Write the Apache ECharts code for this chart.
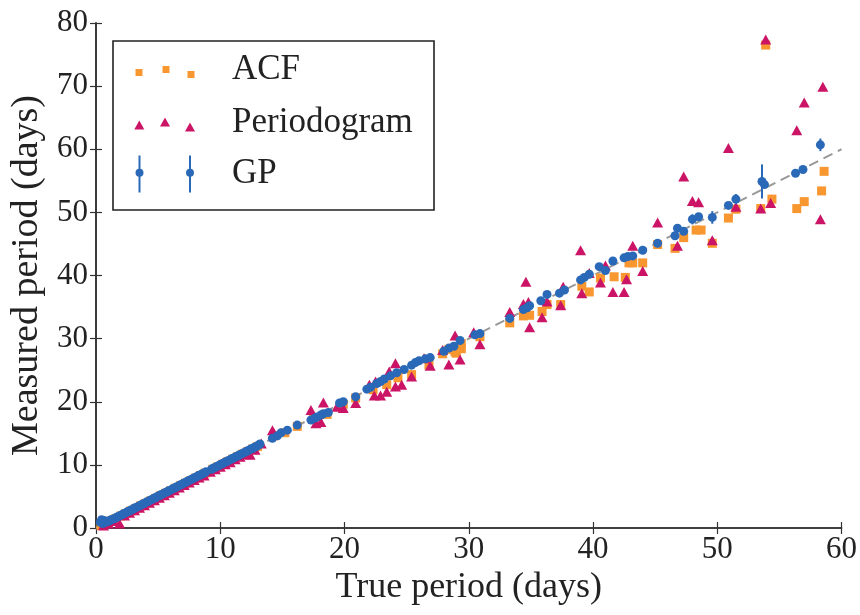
<!DOCTYPE html>
<html>
<head>
<meta charset="utf-8">
<script src="https://cdn.jsdelivr.net/npm/echarts@6/dist/echarts.min.js"></script>
<style>html,body{margin:0;padding:0;background:#fff;}#c{width:860px;height:615px;}</style>
</head>
<body>
<div id="c"></div>
<script>
// ---------- data ----------
const xTicks = [0, 10, 20, 30, 40, 50, 60];
const yTicks = [0, 10, 20, 30, 40, 50, 60, 70, 80];
const seriesNames = ['ACF', 'Periodogram', 'GP'];
const xTitle = 'True period (days)';
const yTitle = 'Measured period (days)';

// one-to-one reference line
const refLine = [[0, 0], [60, 60]];

// GP: [true period, measured period, error]
const gpPoints = [
  [0.35,0.9,0.3],[0.45,1.3,0.3],[0.55,0.7,0.3],[0.65,1.2,0.3],[0.75,0.9,0.2],[0.9,1.0,0.2],[1.05,1.1,0.2],[1.2,1.3,0.1],
  [1.35,1.4,0.1],[1.5,1.5,0.1],[1.65,1.7,0.1],[1.8,1.8,0.1],[1.95,2.0,0.1],[2.1,2.1,0.1],[2.25,2.3,0.1],[2.4,2.4,0.1],
  [2.55,2.6,0.1],[2.7,2.7,0.1],[2.85,2.9,0.1],[3.0,3.0,0.1],[3.15,3.2,0.1],[3.3,3.3,0.1],[3.45,3.5,0.1],[3.6,3.6,0.1],
  [3.75,3.8,0.1],[3.9,3.9,0.1],[4.05,4.1,0.1],[4.2,4.2,0.1],[4.35,4.4,0.1],[4.5,4.5,0.1],[4.65,4.7,0.1],[4.8,4.8,0.1],
  [4.95,5.0,0.1],[5.1,5.1,0.1],[5.25,5.3,0.1],[5.4,5.4,0.1],[5.55,5.6,0.1],[5.7,5.7,0.1],[5.85,5.9,0.1],[6.0,6.0,0.1],
  [6.15,6.2,0.1],[6.3,6.3,0.1],[6.45,6.5,0.1],[6.6,6.6,0.1],[6.75,6.8,0.1],[6.9,6.9,0.1],[7.05,7.1,0.1],[7.2,7.2,0.1],
  [7.35,7.4,0.1],[7.5,7.5,0.1],[7.65,7.7,0.1],[7.8,7.8,0.1],[7.95,8.0,0.1],[8.1,8.1,0.1],[8.25,8.3,0.1],[8.4,8.4,0.1],
  [8.55,8.6,0.1],[8.7,8.7,0.1],[8.85,8.9,0.1],[9.3,9.3,0.1],[9.45,9.5,0.1],[9.6,9.6,0.1],[9.75,9.8,0.1],[9.9,9.9,0.1],
  [10.05,10.1,0.1],[10.2,10.2,0.1],[10.35,10.4,0.1],[10.5,10.5,0.1],[10.65,10.7,0.1],[10.8,10.8,0.1],[10.95,11.0,0.1],
  [11.1,11.1,0.1],[11.25,11.3,0.1],[11.4,11.4,0.1],[11.55,11.6,0.1],[11.7,11.7,0.1],[11.85,11.9,0.1],[12.0,12.0,0.1],
  [12.15,12.2,0.1],[12.3,12.3,0.1],[12.45,12.5,0.1],[12.6,12.6,0.1],[12.75,12.8,0.1],[12.9,12.9,0.1],[13.05,13.1,0.1],[13.2,13.3,0.1],
  [14.2,14.2,0.2],[14.6,14.6,0.2],[14.9,15.1,0.2],[15.4,15.5,0.2],[16.2,16.3,0.2],[17.3,17.1,0.2],[17.6,17.4,0.2],
  [17.8,17.6,0.2],[18.1,17.9,0.2],[18.3,18.1,0.2],[18.7,18.3,0.2],[19.6,19.8,0.2],[19.9,20.0,0.2],[20.9,20.8,0.2],
  [21.8,22.0,0.2],[22.1,22.3,0.2],[22.6,22.9,0.2],[22.9,23.2,0.2],[23.2,23.6,0.2],[23.7,24.1,0.2],[24.2,24.6,0.2],
  [24.8,25.1,0.2],[25.4,25.8,0.3],[25.7,26.2,0.2],[26.0,26.5,0.2],[26.5,26.8,0.2],[26.9,27.0,0.2],[28.0,28.0,0.3],
  [28.4,28.5,0.3],[28.8,28.8,0.3],[29.3,29.7,0.3],
  [30.5,30.6,0.3],[30.9,30.8,0.3],[33.3,33.2,0.3],[34.4,34.6,0.3],[34.7,34.9,0.3],[34.9,35.2,0.3],[35.8,36.0,0.3],
  [36.3,37.0,0.3],[37.3,37.2,0.3],[37.7,37.7,0.3],[39.0,39.3,0.3],[39.3,39.7,0.3],[39.7,40.2,0.3],[40.5,41.4,0.3],
  [41.0,40.8,0.3],[41.6,42.3,0.3],[42.5,42.8,0.3],[42.8,43.0,0.3],[43.2,43.1,0.3],[44.0,44.0,0.3],[45.2,45.1,0.3],
  [46.6,46.3,0.4],[46.8,47.5,0.4],[47.3,47.0,0.4],[48.0,48.9,0.8],[48.5,49.3,0.4],[49.6,49.2,1.0],[50.9,51.1,0.4],
  [51.5,52.1,0.8],[53.6,54.9,2.7],[53.8,54.4,0.5],[56.3,56.2,0.6],[56.9,56.8,0.5],[58.3,60.7,1.0]
];

// ACF: [true period, measured period]
const acfPoints = [
  [0.4,0.4],[0.8,0.7],[1.2,1.1],[1.6,1.5],[2.0,1.9],[2.4,2.3],[2.8,2.7],[3.2,3.1],[3.6,3.5],[4.0,3.9],[4.4,4.3],
  [4.8,4.7],[5.2,5.1],[5.6,5.5],[6.0,5.9],[6.4,6.3],[6.8,6.7],[7.2,7.1],[7.6,7.5],[8.0,7.9],[8.4,8.3],[8.8,8.7],
  [9.4,9.3],[9.8,9.7],[10.2,10.1],[10.6,10.5],[11.0,10.9],[11.4,11.3],[11.8,11.7],[12.2,12.1],[12.6,12.5],[13.0,12.9],
  [14.3,14.6],[15.2,15.1],[16.2,16.1],[17.5,17.2],[18.6,18.0],[19.9,19.6],[20.9,20.6],[22.3,21.9],[23.4,22.7],
  [24.3,23.8],[25.4,24.3],[26.8,25.8],[27.9,27.6],[28.4,28.3],[28.9,27.9],[29.0,27.7],[29.4,28.4],[29.4,29.2],
  [30.9,30.3],[33.3,32.5],[34.4,33.6],[34.9,33.7],[35.9,34.3],[36.3,35.4],[37.4,35.4],[39.1,38.3],[39.7,37.4],
  [40.6,39.6],[41.7,39.8],[42.6,39.7],[42.9,42.0],[43.2,42.0],[44.0,42.0],[45.2,44.9],[46.6,44.3],[47.3,46.0],
  [48.3,47.2],[48.7,47.2],[49.6,45.1],[50.9,49.1],[51.5,50.5],[53.5,50.6],[53.9,76.5],[54.4,52.1],[56.4,50.6],
  [57.0,51.7],[58.4,53.4],[58.6,56.5]
];

// Periodogram: [true period, measured period]
const perPoints = [
  [1.9,0.7],[0.6,0.4],[1.0,0.7],[1.4,1.1],[2.3,2.0],[2.7,2.4],[3.1,2.8],[3.5,3.2],[3.9,3.6],[4.3,4.0],[4.7,4.4],
  [5.1,4.8],[5.5,5.2],[5.9,5.6],[6.3,6.0],[6.7,6.4],[7.1,6.8],[7.5,7.2],[7.9,7.6],[8.3,8.0],[8.7,8.3],[9.2,8.9],
  [9.6,9.3],[10.0,9.7],[10.4,10.1],[10.8,10.4],[11.2,10.9],[11.6,11.3],[12.0,11.7],[12.4,11.6],[12.8,12.4],[13.3,13.4],
  [14.2,15.5],[14.3,15.1],[17.3,18.7],[17.7,16.6],[18.1,16.8],[18.3,19.9],[19.4,19.2],[19.9,19.0],[20.9,19.8],
  [22.0,22.7],[22.4,21.0],[22.5,23.2],[22.9,21.0],[23.4,21.6],[23.6,24.8],[24.1,26.1],[24.1,22.4],[24.6,22.7],
  [25.4,24.0],[26.4,26.9],[26.9,25.7],[27.9,28.2],[28.4,25.9],[28.9,30.5],[29.3,26.7],
  [30.4,31.0],[30.9,29.1],[33.3,34.2],[34.4,35.5],[34.6,39.0],[34.8,35.8],[34.9,31.8],[35.9,33.4],[36.3,35.9],
  [37.4,35.3],[37.6,38.2],[39.0,44.0],[39.1,37.2],[39.7,40.4],[40.6,38.9],[41.0,41.6],[41.6,37.4],[42.5,37.4],
  [42.7,39.4],[43.2,44.7],[44.0,40.7],[45.2,48.4],[46.8,44.7],[47.3,55.7],[48.0,51.8],[48.5,51.6],[49.6,45.6],
  [50.9,60.2],[51.5,50.9],[53.5,50.6],[53.9,77.4],[54.3,51.5],[56.4,63.0],[57.0,67.4],[58.3,48.9],[58.5,69.9]
];

// ---------- styling ----------
const C_ACF = '#f8962f', C_PER = '#cc1466', C_GP = '#2a69b8';
const FONT = 'Liberation Serif';

const chart = echarts.init(document.getElementById('c'), null, {renderer: 'canvas'});

const axisCommon = {
  min: 0,
  axisLine: {show: true, lineStyle: {color: '#333', width: 1.6}},
  axisTick: {show: true, inside: true, length: 6, lineStyle: {color: '#333', width: 1.2}},
  splitLine: {show: false}
};

const option = {
  animation: false,
  backgroundColor: '#fff',
  grid: {left: 95, right: 18, top: 23, bottom: 87, containLabel: false},
  xAxis: [
    Object.assign({}, axisCommon, {
      type: 'value', max: 60, interval: 10, position: 'bottom',
      axisLabel: {fontFamily: FONT, fontSize: 31, color: '#222', margin: 6,
        formatter: v => xTicks.includes(v) ? String(v) : ''},
      name: xTitle, nameLocation: 'middle', nameGap: 40,
      nameTextStyle: {fontFamily: FONT, fontSize: 36, color: '#222'}
    }),
    Object.assign({}, axisCommon, {
      type: 'value', max: 60, interval: 10, position: 'top',
      axisLabel: {show: false}
    })
  ],
  yAxis: [
    Object.assign({}, axisCommon, {
      type: 'value', max: 80, interval: 10, position: 'left',
      axisLabel: {fontFamily: FONT, fontSize: 31, color: '#222', margin: 8,
        formatter: v => yTicks.includes(v) ? String(v) : ''},
      name: yTitle, nameLocation: 'middle', nameGap: 50,
      nameTextStyle: {fontFamily: FONT, fontSize: 38, color: '#222'}
    }),
    Object.assign({}, axisCommon, {
      type: 'value', max: 80, interval: 10, position: 'right',
      axisLabel: {show: false}
    })
  ],
  series: [
    {
      type: 'line', data: refLine, symbol: 'none', z: 1, silent: true,
      lineStyle: {color: '#999', width: 2, type: [10, 6]}
    },
    {
      name: seriesNames[0], type: 'scatter', data: acfPoints, z: 2,
      symbol: 'rect', symbolSize: 9, itemStyle: {color: C_ACF, opacity: 1}
    },
    {
      name: seriesNames[1], type: 'scatter', data: perPoints, z: 3,
      symbol: 'triangle', symbolSize: [11, 10], itemStyle: {color: C_PER, opacity: 1}
    },
    {
      name: seriesNames[2] + ' err', type: 'custom', z: 4,
      data: gpPoints,
      renderItem: function (params, api) {
        const x = api.value(0), y = api.value(1), e = api.value(2);
        const p1 = api.coord([x, y - e]);
        const p2 = api.coord([x, y + e]);
        return {
          type: 'line',
          shape: {x1: p1[0], y1: p1[1], x2: p2[0], y2: p2[1]},
          style: {stroke: C_GP, lineWidth: 2}
        };
      }
    },
    {
      name: seriesNames[2], type: 'scatter', data: gpPoints.map(p => [p[0], p[1]]), z: 5,
      symbol: 'circle', symbolSize: 9, itemStyle: {color: C_GP, opacity: 1}
    }
  ],
  graphic: [
    {type: 'rect', z: 100, shape: {x: 113, y: 41, width: 321, height: 169},
      style: {fill: '#fff', stroke: '#222', lineWidth: 1.6}},
    // ACF markers
    {type: 'rect', z: 101, shape: {x: 135.5, y: 69, width: 7, height: 7}, style: {fill: C_ACF}},
    {type: 'rect', z: 101, shape: {x: 162.5, y: 66, width: 7, height: 7}, style: {fill: C_ACF}},
    {type: 'rect', z: 101, shape: {x: 187.5, y: 71, width: 7, height: 7}, style: {fill: C_ACF}},
    // Periodogram markers
    {type: 'polygon', z: 101, shape: {points: [[139.3, 120.5], [144.3, 129.5], [134.3, 129.5]]}, style: {fill: C_PER}},
    {type: 'polygon', z: 101, shape: {points: [[165, 117.5], [170, 126.5], [160, 126.5]]}, style: {fill: C_PER}},
    {type: 'polygon', z: 101, shape: {points: [[190, 122.5], [195, 131.5], [185, 131.5]]}, style: {fill: C_PER}},
    // GP markers
    {type: 'line', z: 101, shape: {x1: 139.5, y1: 155.5, x2: 139.5, y2: 192.5}, style: {stroke: C_GP, lineWidth: 2}},
    {type: 'circle', z: 102, shape: {cx: 139.5, cy: 172.7, r: 4}, style: {fill: C_GP}},
    {type: 'line', z: 101, shape: {x1: 190, y1: 155.5, x2: 190, y2: 192.5}, style: {stroke: C_GP, lineWidth: 2}},
    {type: 'circle', z: 102, shape: {cx: 190, cy: 172.7, r: 4}, style: {fill: C_GP}},
    // labels
    {type: 'text', z: 101, x: 232, y: 70, style: {text: seriesNames[0], font: '35px "Liberation Serif"', fill: '#222', verticalAlign: 'middle'}},
    {type: 'text', z: 101, x: 232, y: 123, style: {text: seriesNames[1], font: '35px "Liberation Serif"', fill: '#222', verticalAlign: 'middle'}},
    {type: 'text', z: 101, x: 232, y: 174, style: {text: seriesNames[2], font: '35px "Liberation Serif"', fill: '#222', verticalAlign: 'middle'}}
  ]
};

chart.setOption(option);
</script>
</body>
</html>
